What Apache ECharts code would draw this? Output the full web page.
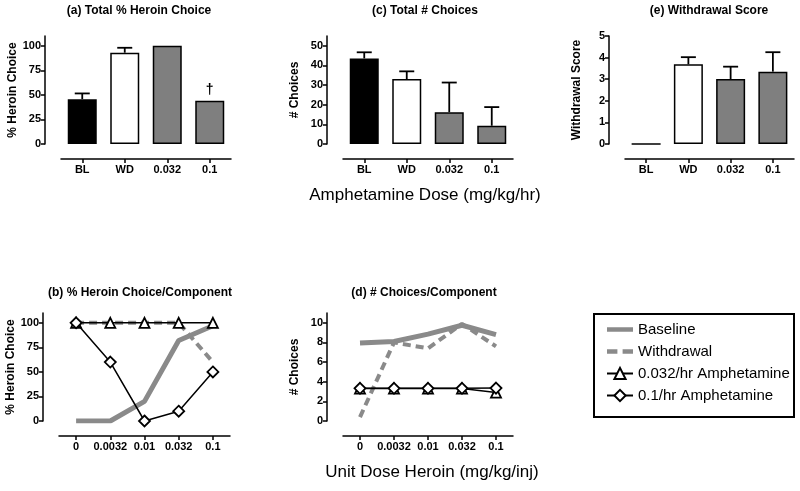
<!DOCTYPE html>
<html>
<head>
<meta charset="utf-8">
<script src="https://cdn.jsdelivr.net/npm/echarts@6/dist/echarts.min.js"></script>
<style>html,body{margin:0;padding:0;background:#fff}#c{width:800px;height:491px}</style>
</head>
<body>
<div id="c"></div>
<script>
// ---------- data ----------
const barCats = ['BL', 'WD', '0.032', '0.1'];
const pctChoice = [45.7, 93, 100, 44];
const pctChoiceErr = [51.5, 98, null, null];
const totChoices = [43.6, 33.1, 16.2, 9.3];
const totChoicesErr = [46.7, 37, 31.3, 18.8];
const wdScore = [0, 3.69, 3.01, 3.35];
const wdScoreErr = [null, 4.02, 3.58, 4.25];

const doseCats = ['0', '0.0032', '0.01', '0.032', '0.1'];
const pctBaseline = [0, 0, 20, 82, 97];
const pctWithdrawal = [100, 100, 100, 100, 60];
const pctAmph032 = [100, 100, 100, 100, 100];
const pctAmph01 = [100, 60, 0, 10, 50];
const nBaseline = [7.95, 8.1, 8.85, 9.75, 8.8];
const nWithdrawal = [0.4, 8.0, 7.4, 9.9, 7.6];
const nAmph032 = [3.3, 3.3, 3.3, 3.3, 2.9];
const nAmph01 = [3.33, 3.33, 3.33, 3.33, 3.35];

const seriesNames = ['Baseline', 'Withdrawal', '0.032/hr Amphetamine', '0.1/hr Amphetamine'];
// ---------- styles ----------
const FONT = 'Liberation Sans, Arial, Helvetica, sans-serif';
const barFills = ['#000000', '#ffffff', '#7f7f7f', '#7f7f7f'];
const GRAY = '#8a8a8a';

const chart = echarts.init(document.getElementById('c'), null, {renderer: 'canvas'});

const grids = [
  {left: 61, top: 36, width: 170, height: 108},   // a
  {left: 343, top: 36, width: 170, height: 108},  // c
  {left: 625, top: 36, width: 169, height: 108},  // e
  {left: 59, top: 313, width: 171, height: 108},  // b
  {left: 343, top: 313, width: 170, height: 108}  // d
];

function xAx(gi, cats) {
  return {
    type: 'category', gridIndex: gi, data: cats, offset: 15,
    axisLine: {show: true, onZero: false, lineStyle: {color: '#000', width: 1.5}},
    axisTick: {show: true, alignWithLabel: true, length: 4, lineStyle: {color: '#000', width: 1.5}},
    axisLabel: {color: '#000', fontFamily: FONT, fontWeight: 'bold', fontSize: 11, margin: 5, interval: 0},
    splitLine: {show: false}
  };
}
function yAx(gi, max, ticks, name) {
  return {
    type: 'value', gridIndex: gi, min: 0, max: max, offset: 16,
    name: name, nameLocation: 'middle', nameGap: 26, nameRotate: 90,
    nameTextStyle: {color: '#000', fontFamily: FONT, fontWeight: 'bold', fontSize: 12},
    axisLine: {show: true, lineStyle: {color: '#000', width: 1.5}},
    axisTick: {show: true, length: 4, customValues: ticks, lineStyle: {color: '#000', width: 1.5}},
    axisLabel: {color: '#000', fontFamily: FONT, fontWeight: 'bold', fontSize: 11, margin: 4, customValues: ticks},
    splitLine: {show: false}
  };
}

function barSeries(gi, vals, extra) {
  return {
    type: 'bar', xAxisIndex: gi, yAxisIndex: gi, barWidth: 29,
    data: vals.map((v, i) => {
      const d = {value: v, itemStyle: {color: barFills[i], borderColor: '#000', borderWidth: 1.5}};
      if (extra && extra[i]) Object.assign(d, extra[i]);
      return d;
    }),
    z: 2
  };
}
function errSeries(gi, vals, errs) {
  const data = [];
  vals.forEach((v, i) => { if (errs[i] != null) data.push([i, v, errs[i]]); });
  return {
    type: 'custom', xAxisIndex: gi, yAxisIndex: gi, z: 1,
    renderItem: function (params, api) {
      const p = api.coord([api.value(0), api.value(1)]);
      const t = api.coord([api.value(0), api.value(2)]);
      const h = 7.5;
      const st = {stroke: '#000', lineWidth: 1.8};
      return {type: 'group', children: [
        {type: 'line', shape: {x1: p[0], y1: p[1], x2: t[0], y2: t[1]}, style: st},
        {type: 'line', shape: {x1: t[0] - h, y1: t[1], x2: t[0] + h, y2: t[1]}, style: st}
      ]};
    },
    data: data
  };
}

function lineSet(gi, base, wd, a032, a01) {
  return [
    {name: seriesNames[0], type: 'line', xAxisIndex: gi, yAxisIndex: gi, data: base, symbol: 'none',
     lineStyle: {color: GRAY, width: 5}, itemStyle: {color: GRAY}, z: 3},
    {name: seriesNames[1], type: 'line', xAxisIndex: gi, yAxisIndex: gi, data: wd, symbol: 'none',
     lineStyle: {color: GRAY, width: 4, type: [8, 5]}, itemStyle: {color: GRAY}, z: 4},
    {name: seriesNames[2], type: 'line', xAxisIndex: gi, yAxisIndex: gi, data: a032, symbol: 'triangle', symbolSize: 10,
     lineStyle: {color: '#000', width: 1.5}, itemStyle: {color: '#fff', borderColor: '#000', borderWidth: 1.8}, z: 5},
    {name: seriesNames[3], type: 'line', xAxisIndex: gi, yAxisIndex: gi, data: a01, symbol: 'diamond', symbolSize: 11,
     lineStyle: {color: '#000', width: 1.5}, itemStyle: {color: '#fff', borderColor: '#000', borderWidth: 1.8}, z: 6}
  ];
}

const titleStyle = {color: '#000', fontFamily: FONT, fontWeight: 'bold', fontSize: 12};
const bigStyle = {color: '#000', fontFamily: FONT, fontWeight: 'normal', fontSize: 17};

const option = {
  backgroundColor: '#fff',
  animation: false,
  textStyle: {fontFamily: FONT},
  title: [
    {text: '(a) Total % Heroin Choice', left: 139, top: 5, textAlign: 'center', padding: 0, textStyle: titleStyle},
    {text: '(c) Total # Choices', left: 425, top: 5, textAlign: 'center', padding: 0, textStyle: titleStyle},
    {text: '(e) Withdrawal Score', left: 709, top: 5, textAlign: 'center', padding: 0, textStyle: titleStyle},
    {text: '(b) % Heroin Choice/Component', left: 140, top: 287, textAlign: 'center', padding: 0, textStyle: titleStyle},
    {text: '(d) # Choices/Component', left: 424, top: 287, textAlign: 'center', padding: 0, textStyle: titleStyle},
    {text: 'Amphetamine Dose (mg/kg/hr)', left: 425, top: 187, textAlign: 'center', padding: 0, textStyle: bigStyle},
    {text: 'Unit Dose Heroin (mg/kg/inj)', left: 432, top: 464, textAlign: 'center', padding: 0, textStyle: bigStyle}
  ],
  grid: grids,
  xAxis: [xAx(0, barCats), xAx(1, barCats), xAx(2, barCats), xAx(3, doseCats), xAx(4, doseCats)],
  yAxis: [
    yAx(0, 110, [0, 25, 50, 75, 100], '% Heroin Choice'),
    yAx(1, 55, [0, 10, 20, 30, 40, 50], '# Choices'),
    yAx(2, 5, [0, 1, 2, 3, 4, 5], 'Withdrawal Score'),
    yAx(3, 110, [0, 25, 50, 75, 100], '% Heroin Choice'),
    yAx(4, 11, [0, 2, 4, 6, 8, 10], '# Choices')
  ],
  legend: {
    orient: 'vertical', left: 606, top: 322, padding: 0,
    itemWidth: 26, itemHeight: 14, itemGap: 7,
    data: [
      {name: seriesNames[0], icon: 'path://M0,0L26,0L26,4.5L0,4.5Z', itemStyle: {color: GRAY}},
      {name: seriesNames[1], icon: 'path://M0,0L10,0L10,4.5L0,4.5Z M15,0L25,0L25,4.5L15,4.5Z', itemStyle: {color: GRAY}},
      {name: seriesNames[2]},
      {name: seriesNames[3]}
    ],
    textStyle: {color: '#000', fontFamily: FONT, fontSize: 15}
  },
  graphic: [
    {type: 'rect', shape: {x: 594, y: 314, width: 200, height: 103}, style: {fill: 'none', stroke: '#000', lineWidth: 2}, z: 0, silent: true}
  ],
  series: [
    barSeries(0, pctChoice, [null, null, null, {label: {show: true, position: 'top', distance: 4, formatter: '\u2020', color: '#000', fontSize: 14, fontWeight: 'bold', fontFamily: FONT}}]),
    errSeries(0, pctChoice, pctChoiceErr),
    barSeries(1, totChoices),
    errSeries(1, totChoices, totChoicesErr),
    barSeries(2, wdScore),
    errSeries(2, wdScore, wdScoreErr),
    ...lineSet(3, pctBaseline, pctWithdrawal, pctAmph032, pctAmph01),
    ...lineSet(4, nBaseline, nWithdrawal, nAmph032, nAmph01)
  ]
};
chart.setOption(option);
</script>
</body>
</html>
